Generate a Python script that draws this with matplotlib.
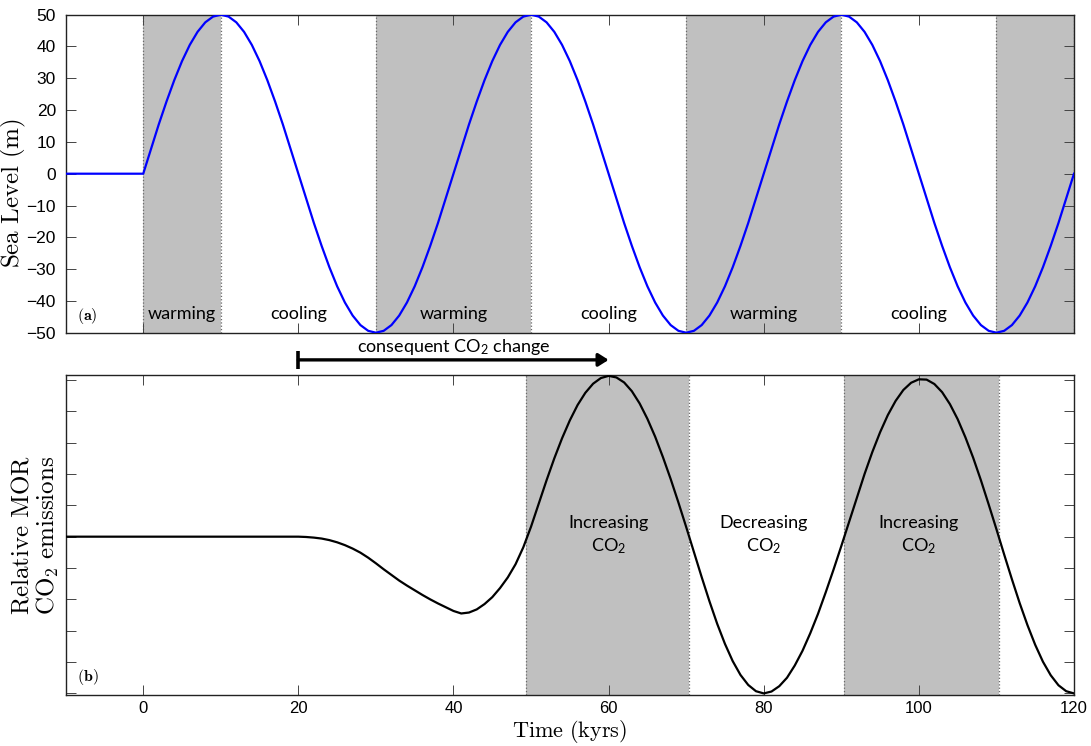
import numpy as np
import matplotlib.pyplot as plt

# time grid (kyrs), one sample per kyr
time_kyr = list(range(-10, 121))

# (a) sea level in m
sea_level = [
    0, 0, 0, 0, 0, 0, 0, 0, 0, 0,
    0, 7.8, 15.5, 22.7, 29.4, 35.4, 40.5, 44.6, 47.6, 49.4,
    50, 49.4, 47.6, 44.6, 40.5, 35.4, 29.4, 22.7, 15.5, 7.8,
    0, -7.8, -15.5, -22.7, -29.4, -35.4, -40.5, -44.6, -47.6, -49.4,
    -50, -49.4, -47.6, -44.6, -40.5, -35.4, -29.4, -22.7, -15.5, -7.8,
    0, 7.8, 15.5, 22.7, 29.4, 35.4, 40.5, 44.6, 47.6, 49.4,
    50, 49.4, 47.6, 44.6, 40.5, 35.4, 29.4, 22.7, 15.5, 7.8,
    0, -7.8, -15.5, -22.7, -29.4, -35.4, -40.5, -44.6, -47.6, -49.4,
    -50, -49.4, -47.6, -44.6, -40.5, -35.4, -29.4, -22.7, -15.5, -7.8,
    0, 7.8, 15.5, 22.7, 29.4, 35.4, 40.5, 44.6, 47.6, 49.4,
    50, 49.4, 47.6, 44.6, 40.5, 35.4, 29.4, 22.7, 15.5, 7.8,
    0, -7.8, -15.5, -22.7, -29.4, -35.4, -40.5, -44.6, -47.6, -49.4,
    -50, -49.4, -47.6, -44.6, -40.5, -35.4, -29.4, -22.7, -15.5, -7.8,
    0,
]

# (b) relative MOR CO2 emissions (arbitrary units, 0 = baseline)
mor_co2 = [
    0, 0, 0, 0, 0, 0, 0, 0, 0, 0,
    0, 0, 0, 0, 0, 0, 0, 0, 0, 0,
    0, 0, 0, 0, 0, 0, 0, 0, 0, 0,
    0, -0.01, -0.03, -0.06, -0.11, -0.18, -0.27, -0.38, -0.51, -0.67,
    -0.85, -1.04, -1.22, -1.40, -1.56, -1.71, -1.86, -2.00, -2.13, -2.25,
    -2.37, -2.45, -2.42, -2.32, -2.15, -1.93, -1.64, -1.30, -0.88, -0.34,
    0.32, 1.06, 1.80, 2.50, 3.14, 3.71, 4.20, 4.59, 4.88, 5.06,
    5.13, 5.08, 4.92, 4.64, 4.25, 3.76, 3.19, 2.54, 1.84, 1.09,
    0.31, -0.49, -1.29, -2.06, -2.78, -3.42, -3.97, -4.41, -4.73, -4.93,
    -5.0, -4.94, -4.77, -4.50, -4.11, -3.64, -3.08, -2.46, -1.77, -1.05,
    -0.30, 0.47, 1.25, 2.00, 2.70, 3.33, 3.88, 4.33, 4.68, 4.91,
    5.02, 5.01, 4.87, 4.61, 4.23, 3.75, 3.17, 2.52, 1.80, 1.03,
    0.24, -0.57, -1.36, -2.12, -2.82, -3.45, -3.99, -4.42, -4.74, -4.93,
    -5.0,
]

# shaded periods
warming_spans = [(0, 10), (30, 50), (70, 90), (110, 120)]
increasing_spans = [(49.3, 70.4), (90.4, 110.3)]

# phase labels
phase_x = [5, 20, 40, 60, 80, 100]
phase_labels = ["warming", "cooling", "warming", "cooling", "warming", "cooling"]
co2_x = [60, 80, 100]
co2_labels = ["Increasing\nCO$_2$", "Decreasing\nCO$_2$", "Increasing\nCO$_2$"]

x_ticks = [0, 20, 40, 60, 80, 100, 120]
sl_ticks = [-50, -40, -30, -20, -10, 0, 10, 20, 30, 40, 50]
co2_ticks = [-5, -4, -3, -2, -1, 0, 1, 2, 3, 4, 5]

plt.rcParams['font.family'] = ['Lato', 'DejaVu Sans']
plt.rcParams['mathtext.fontset'] = 'custom'
plt.rcParams['mathtext.rm'] = 'Lato'
plt.rcParams['mathtext.it'] = 'Lato:italic'
plt.rcParams['mathtext.bf'] = 'Lato:bold'

shade = '#c0c0c0'
edge = '#6a6a6a'
ann_size = 13

fig = plt.figure(figsize=(10.91, 7.46), dpi=100)
ax1 = fig.add_axes([0.0602, 0.554, 0.9242, 0.4263])
ax2 = fig.add_axes([0.0602, 0.0684, 0.9242, 0.4286])

for ax in (ax1, ax2):
    ax.set_xlim(-10, 120)
    ax.set_xticks(x_ticks)
    ax.tick_params(direction='in', length=7, width=0.7, color='#444444',
                   top=True, right=True, labelsize=12.5,
                   labelfontfamily='Liberation Sans', pad=7)
    for s in ax.spines.values():
        s.set_linewidth(1.0)
        s.set_color('#222222')
ax2.tick_params(axis='x', labelsize=12, pad=4)

# ---- panel (a)
for a, b in warming_spans:
    ax1.axvspan(a, b, color=shade, lw=0, zorder=0)
    for xe in (a, b):
        ax1.axvline(xe, ls=':', color=edge, lw=0.9, zorder=1)
ax1.plot(time_kyr, sea_level, color='#0000ff', lw=1.6, zorder=3)
ax1.set_ylim(-50, 50)
ax1.set_yticks(sl_ticks)
ax1.set_xticklabels([])
for xp, lab in zip(phase_x, phase_labels):
    ax1.text(xp, -44.2, lab, ha='center', va='center', fontsize=ann_size)
ax1.text(0.011, 0.052, r'$\mathbf{(a)}$', transform=ax1.transAxes,
         math_fontfamily='cm', fontsize=11.5, ha='left', va='center')
ax1.set_ylabel(r'$\mathrm{Sea\ Level\ (m)}$', math_fontfamily='cm', fontsize=18)
ax1.yaxis.set_label_coords(-0.037, 0.44)

# ---- panel (b)
for a, b in increasing_spans:
    ax2.axvspan(a, b, color=shade, lw=0, zorder=0)
    for xe in (a, b):
        ax2.axvline(xe, ls=':', color=edge, lw=0.9, zorder=1)
ax2.plot(time_kyr, mor_co2, color='black', lw=1.6, zorder=3)
ax2.set_ylim(-5.05, 5.15)
ax2.set_yticks(co2_ticks)
ax2.set_yticklabels([])
for xp, lab in zip(co2_x, co2_labels):
    ax2.text(xp, 0.05, lab, ha='center', va='center', fontsize=ann_size,
             linespacing=1.35)
ax2.text(0.011, 0.057, r'$\mathbf{(b)}$', transform=ax2.transAxes,
         math_fontfamily='cm', fontsize=11.5, ha='left', va='center')
ax2.set_ylabel(r'$\mathrm{Relative\ MOR}$' + '\n' + r'$\mathrm{CO_2\ emissions}$',
               math_fontfamily='cm', fontsize=18, linespacing=1.1)
ax2.yaxis.set_label_coords(-0.005, 0.5)
ax2.set_xlabel(r'$\mathrm{Time\ (kyrs)}$', math_fontfamily='cm', fontsize=16)
ax2.xaxis.set_label_coords(0.5, -0.072)

# lag arrow between the panels
arrow_y = 5.64
ax2.annotate('', xy=(60, arrow_y), xytext=(20, arrow_y),
             arrowprops=dict(arrowstyle='-|>,head_length=0.6,head_width=0.38',
                             lw=2.4, color='black', shrinkA=0, shrinkB=0),
             annotation_clip=False)
ax2.plot([20, 20], [5.34, 5.93], color='black', lw=2.6, clip_on=False,
         solid_capstyle='butt')
ax2.text(40, 6.06, 'consequent CO$_2$ change', ha='center', va='center',
         fontsize=ann_size, clip_on=False)

fig.savefig('out.png', dpi=100)
